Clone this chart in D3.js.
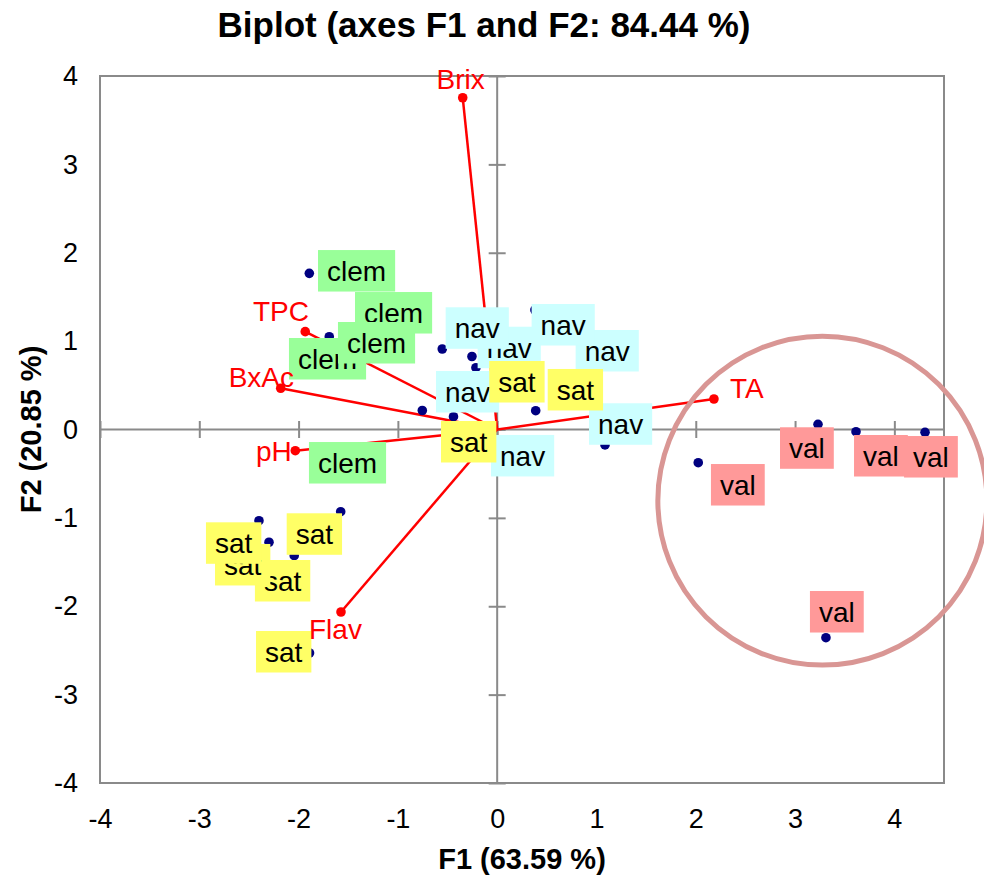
<!DOCTYPE html>
<html>
<head>
<meta charset="utf-8">
<script src="https://cdn.jsdelivr.net/npm/d3@7"></script>
<style>
  html, body { margin: 0; padding: 0; background: #fff; }
  svg { display: block; font-family: "Liberation Sans", Arial, sans-serif; }
</style>
</head>
<body>
<svg id="chart" width="984" height="878"></svg>
<script>
// ---- Variables (loadings, scaled for the biplot) ----
const varNames = ["Brix", "TPC", "BxAc", "pH", "Flav", "TA"];
const varF1 = [-0.347, -1.933, -2.180, -2.033, -1.573, 2.183];
const varF2 = [3.754, 1.107, 0.466, -0.240, -2.065, 0.345];

// ---- Observations (factor scores) in drawing order ----
const obsGroup = [
  "clem", "clem", "clem", "clem", "clem",
  "nav", "nav", "nav", "nav", "nav", "nav", "nav",
  "sat", "sat", "sat", "sat", "sat", "sat", "sat", "sat",
  "val", "val", "val", "val", "val"
];
const obsF1 = [
  -1.805, -1.966, -1.301, -1.691, -1.892,
  0.230, -0.214, -0.553, 1.035, 0.380, -0.754, 1.086,
  -0.254, 0.388, -0.440, -1.576, -2.044, -2.298, -2.399, -1.890,
  3.231, 3.614, 4.309, 2.025, 3.311
];
const obsF2 = [
  -0.368, 0.809, 1.284, 1.050, 1.767,
  -0.322, 0.699, 0.911, 0.877, 1.352, 0.215, -0.175,
  0.826, 0.213, 0.145, -0.930, -1.428, -1.276, -1.032, -2.529,
  0.059, -0.025, -0.032, -0.376, -2.356
];

// Label box placement: top-left corner of each box relative to its point (px)
const labelNudge = [
  [-9, -20], [-13, -20], [-13, -24], [8.7, -14.7], [8.7, -23.3],
  [-29, -23], [1.7, -41], [3.4, -41.7], [-24.3, -22], [-3.3, -6], [13.7, -39.5], [-16, -41.7],
  [17.3, 4.5], [12, -41.7], [-12.5, 4.3], [-54, 1.6], [-39.3, 4.3], [-54, 1.7], [-53, 1.6], [-53.5, -22],
  [-38, 3], [-2, 3.3], [-21, 3.7], [12.7, 1.3], [-16, -46.7]
];
// Variable label placement relative to its point: [dx, dy, anchor]
const varLabelPos = [
  [-2, -8.4, "middle"], [3.7, -10.7, "end"], [13.3, -1.6, "end"],
  [-3.6, 10, "end"], [-32, 27, "start"], [16, -1.3, "start"]
];

const groupFill = { clem: "#99ff99", nav: "#ccffff", sat: "#ffff66", val: "#ff9999" };

// Highlighted cluster (ellipse in data units)
const ringCenter = [3.275, -0.805];
const ringRadius = [1.657, 1.861];

const xTicks = [-4, -3, -2, -1, 0, 1, 2, 3, 4];
const yTicks = [-4, -3, -2, -1, 0, 1, 2, 3, 4];

const titleText = "Biplot (axes F1 and F2: 84.44 %)";
const xTitle = "F1 (63.59 %)";
const yTitle = "F2 (20.85 %)";

// ---- Layout ----
const plotLeft = 100, plotRight = 944, plotTop = 76, plotBottom = 783;
const svg = d3.select("#chart");
const x = d3.scaleLinear().domain([-4, 4.5]).range([plotLeft, plotRight]);
const y = d3.scaleLinear().domain([-4, 4]).range([plotBottom, plotTop]);
const axisGray = "#8a8a8a";
const plainNumber = d => String(d);   // ASCII hyphen for negatives

// Plot frame
svg.append("rect")
  .attr("x", plotLeft).attr("y", plotTop)
  .attr("width", plotRight - plotLeft).attr("height", plotBottom - plotTop)
  .attr("fill", "none").attr("stroke", axisGray).attr("stroke-width", 2);

// Zero lines with crossing ticks
const tickHalf = 8.5;
const yAxisG = svg.append("g").attr("transform", `translate(${x(0) + tickHalf},0)`)
  .call(d3.axisLeft(y).tickValues(yTicks).tickSize(tickHalf * 2).tickFormat(""));
const xAxisG = svg.append("g").attr("transform", `translate(0,${y(0) - tickHalf})`)
  .call(d3.axisBottom(x).tickValues(xTicks).tickSize(tickHalf * 2).tickFormat(""));
[yAxisG, xAxisG].forEach(g => {
  g.select(".domain").remove();
  g.selectAll(".tick line").attr("stroke", axisGray).attr("stroke-width", 2);
});
svg.append("line").attr("x1", x(0)).attr("x2", x(0)).attr("y1", plotTop).attr("y2", plotBottom)
  .attr("stroke", axisGray).attr("stroke-width", 2);
svg.append("line").attr("x1", plotLeft).attr("x2", plotRight).attr("y1", y(0)).attr("y2", y(0))
  .attr("stroke", axisGray).attr("stroke-width", 2);

// Tick labels along the frame
const yLab = svg.append("g").attr("transform", `translate(${plotLeft},0)`)
  .call(d3.axisLeft(y).tickValues(yTicks).tickSize(0).tickPadding(22).tickFormat(plainNumber));
const xLab = svg.append("g").attr("transform", `translate(0,${plotBottom})`)
  .call(d3.axisBottom(x).tickValues(xTicks).tickSize(0).tickPadding(26).tickFormat(plainNumber));
[yLab, xLab].forEach(g => {
  g.select(".domain").remove();
  g.selectAll("text").attr("font-size", 27).attr("fill", "#000")
    .attr("font-family", "'Liberation Sans', Arial, sans-serif");
});

// Variable vectors
const vars = varNames.map((n, i) => ({ name: n, f1: varF1[i], f2: varF2[i], pos: varLabelPos[i] }));
svg.append("g").selectAll("line").data(vars).join("line")
  .attr("x1", x(0)).attr("y1", y(0))
  .attr("x2", d => x(d.f1)).attr("y2", d => y(d.f2))
  .attr("stroke", "#ff0000").attr("stroke-width", 2.5);

// Observation points
const obs = obsGroup.map((g, i) => ({ group: g, f1: obsF1[i], f2: obsF2[i], nudge: labelNudge[i] }));
svg.append("g").selectAll("circle").data(obs).join("circle")
  .attr("cx", d => x(d.f1)).attr("cy", d => y(d.f2)).attr("r", 4.8)
  .attr("fill", "#000080");

// Variable end points
svg.append("g").selectAll("circle").data(vars).join("circle")
  .attr("cx", d => x(d.f1)).attr("cy", d => y(d.f2)).attr("r", 4.8)
  .attr("fill", "#ff0000");

// Observation labels with coloured boxes
const padX = 9, boxH = 41.5, fontSize = 28;
const labG = svg.append("g");
obs.forEach(d => {
  const g = labG.append("g");
  const bx = x(d.f1) + d.nudge[0], by = y(d.f2) + d.nudge[1];
  const rect = g.append("rect").attr("fill", groupFill[d.group]);
  const t = g.append("text").text(d.group)
    .attr("font-size", fontSize).attr("fill", "#000")
    .attr("x", bx + padX).attr("y", by + 31);
  const w = t.node().getComputedTextLength() + padX * 2;
  rect.attr("x", bx).attr("y", by).attr("width", w).attr("height", boxH);
});

// Variable names
svg.append("g").selectAll("text").data(vars).join("text")
  .attr("x", d => x(d.f1) + d.pos[0]).attr("y", d => y(d.f2) + d.pos[1])
  .attr("text-anchor", d => d.pos[2])
  .attr("font-size", 28).attr("fill", "#ff0000")
  .text(d => d.name);

// Cluster ring
svg.append("ellipse")
  .attr("cx", x(ringCenter[0])).attr("cy", y(ringCenter[1]))
  .attr("rx", x(ringCenter[0] + ringRadius[0]) - x(ringCenter[0]))
  .attr("ry", y(ringCenter[1] - ringRadius[1]) - y(ringCenter[1]))
  .attr("fill", "none").attr("stroke", "#d99694").attr("stroke-width", 5);

// Titles
svg.append("text").attr("x", 484).attr("y", 37).attr("text-anchor", "middle")
  .attr("font-size", 35).attr("font-weight", "bold").text(titleText);
svg.append("text").attr("x", (plotLeft + plotRight) / 2).attr("y", 869).attr("text-anchor", "middle")
  .attr("font-size", 29).attr("font-weight", "bold").text(xTitle);
svg.append("text").attr("transform", `translate(41,${(plotTop + plotBottom) / 2}) rotate(-90)`)
  .attr("text-anchor", "middle")
  .attr("font-size", 29).attr("font-weight", "bold").text(yTitle);
</script>
</body>
</html>
